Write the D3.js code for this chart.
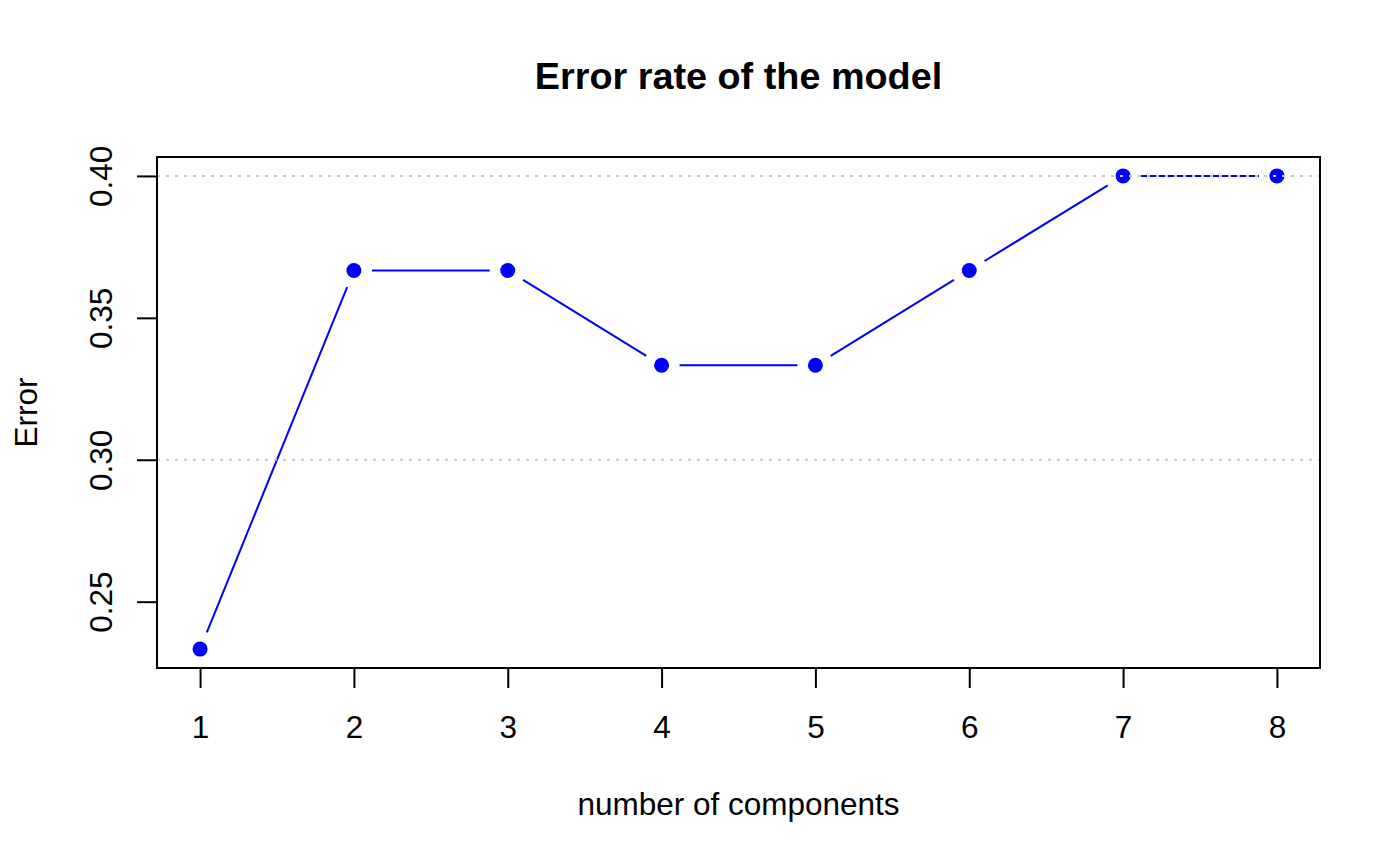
<!DOCTYPE html>
<html>
<head>
<meta charset="utf-8">
<script src="https://cdn.jsdelivr.net/npm/d3@7"></script>
<style>
  html, body { margin: 0; padding: 0; background: #fff; }
  svg { display: block; font-family: Arial, "Liberation Sans", Helvetica, sans-serif; }
</style>
</head>
<body>
<svg id="chart" width="1400" height="865"></svg>
<script>
const components = [1, 2, 3, 4, 5, 6, 7, 8];
const errorRates = [0.2333, 0.3667, 0.3667, 0.3333, 0.3333, 0.3667, 0.4, 0.4];
const xTicks = [1, 2, 3, 4, 5, 6, 7, 8];
const yTicks = [0.25, 0.30, 0.35, 0.40];
const gridValues = [0.30, 0.40];
const titleText = "Error rate of the model";
const xLabel = "number of components";
const yLabel = "Error";

(function () {
const svg = d3.select("#chart");
const pLeft = 157, pRight = 1320, pTop = 157, pBottom = 668;

const xMin = d3.min(components), xMax = d3.max(components);
const xPad = (xMax - xMin) * 0.04;
const yMin = d3.min(errorRates), yMax = d3.max(errorRates);
const yPad = (yMax - yMin) * 0.04;

const x = d3.scaleLinear().domain([xMin - xPad, xMax + xPad]).range([pLeft, pRight]);
const y = d3.scaleLinear().domain([yMin - yPad, yMax + yPad]).range([pBottom, pTop]);

const data = components.map((c, i) => ({ x: c, y: errorRates[i] }));

// line segments with gaps (R type="b")
const gap = 18;
const segs = [];
for (let i = 0; i < data.length - 1; i++) {
  const x1 = x(data[i].x), y1 = y(data[i].y), x2 = x(data[i + 1].x), y2 = y(data[i + 1].y);
  const dx = x2 - x1, dy = y2 - y1, len = Math.hypot(dx, dy);
  if (len > 2 * gap) {
    const ux = dx / len, uy = dy / len;
    segs.push([x1 + ux * gap, y1 + uy * gap, x2 - ux * gap, y2 - uy * gap]);
  }
}
svg.append("g").selectAll("line").data(segs).join("line")
  .attr("x1", d => d[0]).attr("y1", d => d[1])
  .attr("x2", d => d[2]).attr("y2", d => d[3])
  .attr("stroke", "#0000ff").attr("stroke-width", 2);

svg.append("g").selectAll("circle").data(data).join("circle")
  .attr("cx", d => x(d.x)).attr("cy", d => y(d.y)).attr("r", 7.5)
  .attr("fill", "#0000ff");

// grid lines (drawn on top)
svg.append("g").selectAll("line").data(gridValues).join("line")
  .attr("x1", pLeft).attr("x2", pRight)
  .attr("y1", d => y(d)).attr("y2", d => y(d))
  .attr("stroke", "#c8c8c8").attr("stroke-width", 2)
  .attr("stroke-dasharray", "3,6");

// frame
svg.append("rect").attr("x", pLeft).attr("y", pTop)
  .attr("width", pRight - pLeft).attr("height", pBottom - pTop)
  .attr("fill", "none").attr("stroke", "#000").attr("stroke-width", 2);

// x axis
const xAxis = d3.axisBottom(x).tickValues(xTicks).tickSize(20).tickPadding(22)
  .tickFormat(d3.format("d"));
const gx = svg.append("g").attr("transform", `translate(0,${pBottom})`).call(xAxis);
gx.select(".domain").attr("d", `M${x(xTicks[0])},0H${x(xTicks[xTicks.length - 1])}`)
  .attr("stroke-width", 2);
gx.selectAll(".tick line").attr("stroke-width", 2);
gx.selectAll(".tick text").attr("font-size", 31.5).attr("fill", "#000")
  .attr("font-family", "Arial, 'Liberation Sans', sans-serif")
  .attr("dy", null).attr("y", 70);

// y axis
const yAxis = d3.axisLeft(y).tickValues(yTicks).tickSize(20).tickFormat(d3.format(".2f"));
const gy = svg.append("g").attr("transform", `translate(${pLeft},0)`).call(yAxis);
gy.select(".domain").attr("d", `M0,${y(yTicks[0])}V${y(yTicks[yTicks.length - 1])}`)
  .attr("stroke-width", 2);
gy.selectAll(".tick line").attr("stroke-width", 2);
gy.selectAll(".tick text").attr("font-size", 31.5).attr("fill", "#000")
  .attr("font-family", "Arial, 'Liberation Sans', sans-serif")
  .attr("x", null).attr("dy", null).attr("text-anchor", "middle")
  .attr("transform", `translate(${112 - pLeft},0) rotate(-90)`);

// title
svg.append("text").attr("x", (pLeft + pRight) / 2).attr("y", 89)
  .attr("text-anchor", "middle").attr("font-size", 37.8).attr("font-weight", "bold")
  .text(titleText);

// axis labels
svg.append("text").attr("x", (pLeft + pRight) / 2).attr("y", 815)
  .attr("text-anchor", "middle").attr("font-size", 31.5).text(xLabel);
svg.append("text").attr("transform", `translate(37,${(pTop + pBottom) / 2}) rotate(-90)`)
  .attr("text-anchor", "middle").attr("font-size", 31.5).text(yLabel);
})();
</script>
</body>
</html>
